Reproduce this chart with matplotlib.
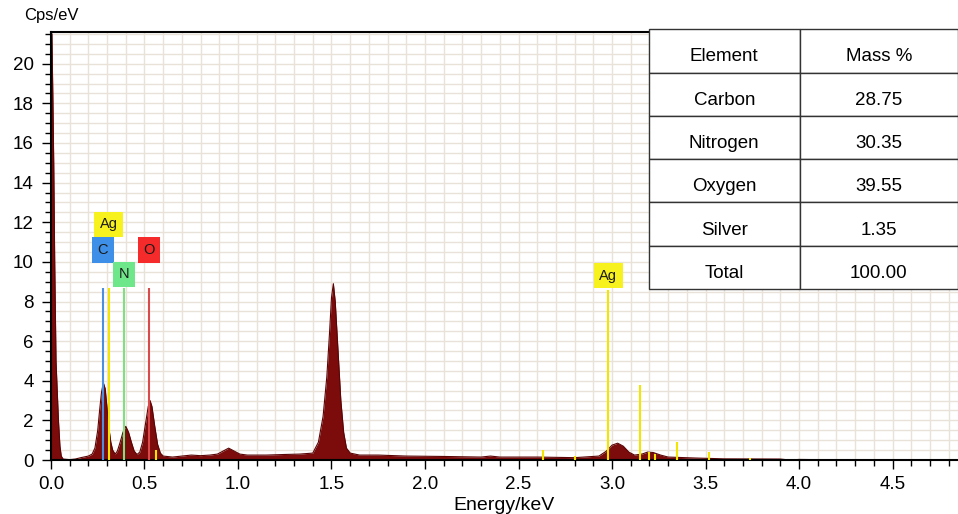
import numpy as np
import matplotlib.pyplot as plt
import matplotlib.transforms as mtransforms
from matplotlib.ticker import MultipleLocator

plt.rcParams['font.family'] = ['Liberation Sans', 'DejaVu Sans']

# EDS spectrum, counts per eV against energy in keV
energy = [0.000, 0.005, 0.010, 0.015, 0.020, 0.027, 0.033, 0.040, 0.048, 0.055,
          0.065, 0.100, 0.130, 0.160, 0.200, 0.220, 0.235, 0.250, 0.260, 0.270,
          0.280, 0.290, 0.300, 0.310, 0.320, 0.330, 0.343, 0.355, 0.370, 0.385,
          0.400, 0.415, 0.430, 0.445, 0.460, 0.475, 0.490, 0.505, 0.520, 0.530,
          0.540, 0.555, 0.570, 0.585, 0.600, 0.650, 0.700, 0.750, 0.800, 0.850,
          0.890, 0.920, 0.950, 0.980, 1.010, 1.050, 1.150, 1.250, 1.330, 1.400,
          1.430, 1.455, 1.475, 1.490, 1.500, 1.510, 1.520, 1.535, 1.550, 1.565,
          1.580, 1.600, 1.650, 1.750, 1.900, 2.100, 2.300, 2.350, 2.400, 2.600,
          2.800, 2.930, 2.970, 3.000, 3.030, 3.060, 3.090, 3.120, 3.160, 3.190,
          3.220, 3.260, 3.300, 3.450, 3.600, 3.900, 3.950, 4.000, 4.100, 4.150,
          4.850]
counts = [21.6, 21.5, 18.4, 14.8, 10.0, 5.0, 3.6, 2.0, 0.7, 0.2,
          0.05, 0.02, 0.05, 0.12, 0.20, 0.30, 0.60, 1.50, 2.50, 3.40,
          3.90, 3.60, 2.60, 1.60, 0.90, 0.50, 0.30, 0.45, 0.90, 1.40,
          1.70, 1.40, 0.90, 0.45, 0.28, 0.40, 0.90, 1.80, 2.70, 3.00,
          2.70, 1.70, 0.80, 0.35, 0.20, 0.15, 0.20, 0.25, 0.22, 0.25,
          0.30, 0.45, 0.60, 0.45, 0.30, 0.25, 0.25, 0.28, 0.30, 0.35,
          0.90, 2.20, 4.20, 6.50, 8.20, 8.90, 8.00, 5.50, 3.00, 1.40,
          0.60, 0.35, 0.25, 0.25, 0.20, 0.18, 0.15, 0.20, 0.15, 0.15,
          0.12, 0.20, 0.45, 0.75, 0.85, 0.70, 0.40, 0.25, 0.30, 0.40,
          0.38, 0.25, 0.15, 0.10, 0.06, 0.05, 0.00, 0.03, 0.02, 0.00,
          0.00]

# element line markers: energy, height, colour
line_energy = [0.277, 0.311, 0.392, 0.525, 0.563,
               2.63, 2.80, 2.98, 3.15, 3.20, 3.23, 3.35, 3.52, 3.74]
line_height = [8.7, 8.7, 8.7, 8.7, 0.5,
               0.5, 0.2, 8.6, 3.8, 0.4, 0.3, 0.9, 0.4, 0.1]
line_color = ['#4a8fe0', '#f2e600', '#7ee07e', '#d94a4a', '#f2e600',
              '#f2e600', '#f2e600', '#f2e600', '#f2e600', '#f2e600',
              '#f2e600', '#f2e600', '#f2e600', '#f2e600']

# element tags: text, energy, height, box colour
tag_text = ['Ag', 'C', 'O', 'N', 'Ag']
tag_x = [0.309, 0.277, 0.523, 0.392, 2.98]
tag_y = [11.9, 10.6, 10.6, 9.37, 9.3]
tag_color = ['#f7f21e', '#3d8fe8', '#f52a2a', '#6ee68a', '#f7f21e']

# quantification table
elements = ['Carbon', 'Nitrogen', 'Oxygen', 'Silver', 'Total']
mass_pct = ['28.75', '30.35', '39.55', '1.35', '100.00']

fig = plt.figure(figsize=(9.58, 5.14), dpi=100)
ax = fig.add_axes([0.0532, 0.105, 0.9468, 0.8327])

ax.set_xlim(0, 4.85)
ax.set_ylim(0, 21.6)
ax.xaxis.set_major_locator(MultipleLocator(0.5))
ax.xaxis.set_minor_locator(MultipleLocator(0.1))
ax.yaxis.set_major_locator(MultipleLocator(2))
ax.yaxis.set_minor_locator(MultipleLocator(0.5))
ax.xaxis.set_major_formatter(plt.FormatStrFormatter('%.1f'))
ax.grid(which='both', color='#e9e2d8', lw=1.0)
ax.set_axisbelow(True)

ax.fill_between(energy, counts, color='#7c0b0b', lw=0, zorder=2)
ax.plot(energy, counts, color='#5a0505', lw=0.8, zorder=2)

ax.vlines(line_energy, 0, line_height, colors=line_color, lw=1.5, zorder=3)

for t, x, y, c in zip(tag_text, tag_x, tag_y, tag_color):
    ax.text(x, y, t, ha='center', va='center', fontsize=10.5, color='#1a1a1a',
            zorder=5, bbox=dict(boxstyle='square,pad=0.38', fc=c, ec='none'))

for s in ['top', 'left', 'bottom']:
    ax.spines[s].set_color('black')
    ax.spines[s].set_linewidth(1.5)
ax.spines['right'].set_visible(False)

ax.tick_params(which='major', direction='out', length=6.5, width=1.0,
               labelsize=13.5, pad=5)
ax.tick_params(which='minor', direction='out', length=4.5, width=1.0)
ax.tick_params(axis='y', pad=6)

ax.set_xlabel('Energy/keV', fontsize=14, labelpad=3)
fig.text(0.025, 0.984, 'Cps/eV', fontsize=12, ha='left', va='top')

cells = [['Element', 'Mass %']] + [[e, m] for e, m in zip(elements, mass_pct)]
tbl = ax.table(cellText=cells, cellLoc='center', colWidths=[151, 158],
               bbox=[0.659, 0.3995, 0.341, 0.607], zorder=6)
tbl.auto_set_font_size(False)
tbl.set_fontsize(13.5)
# cell text sits a little below the middle of each row
shift = mtransforms.Affine2D().translate(0, -6)
for (r, c), cell in tbl.get_celld().items():
    cell.set_edgecolor('#333333')
    cell.set_linewidth(1.0)
    cell.set_facecolor('white')
    cell.set_clip_on(False)
    cell.get_text().set_transform(shift)

fig.savefig('out.png', dpi=100)
